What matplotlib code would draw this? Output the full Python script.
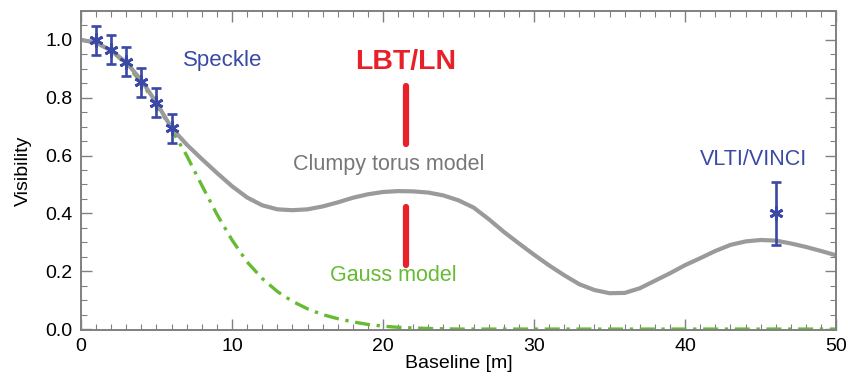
import matplotlib
matplotlib.use("Agg")
import matplotlib.pyplot as plt
from matplotlib.ticker import MultipleLocator

plt.rcParams["font.family"] = ["Liberation Sans", "DejaVu Sans"]

# Clumpy torus model, read at 1 m steps
baseline = list(range(0, 51))
torus_vis = [1.000, 0.990, 0.963, 0.922, 0.860, 0.782, 0.695, 0.638, 0.588, 0.540,
             0.494, 0.455, 0.428, 0.414, 0.411, 0.414, 0.424, 0.438, 0.454, 0.466,
             0.474, 0.477, 0.476, 0.472, 0.462, 0.445, 0.420, 0.380, 0.336, 0.296,
             0.257, 0.220, 0.186, 0.155, 0.135, 0.124, 0.125, 0.141, 0.167, 0.193,
             0.221, 0.245, 0.270, 0.291, 0.303, 0.308, 0.306, 0.296, 0.284, 0.270,
             0.255]
# Gauss model
gauss_vis = [1.000, 0.990, 0.962, 0.915, 0.852, 0.776, 0.690, 0.600, 0.497, 0.397,
             0.308, 0.232, 0.175, 0.130, 0.096, 0.070, 0.050, 0.036, 0.025, 0.016,
             0.010, 0.006, 0.004, 0.002, 0.001] + [0.0] * 26

# Speckle points
speckle_x = [1, 2, 3, 4, 5, 6]
speckle_y = [0.998, 0.966, 0.925, 0.854, 0.782, 0.695]
speckle_err = [0.05, 0.05, 0.05, 0.05, 0.05, 0.05]

# VLTI/VINCI point
vinci_x = [46.0]
vinci_y = [0.40]
vinci_err = [0.11]

# LBT/LN marker bars
lbt_x = 21.5
lbt_upper = (0.640, 0.842)
lbt_lower = (0.221, 0.422)

BLUE = "#3a48a6"
GRAY = "#9a9a9a"
GREEN = "#66bb33"
RED = "#e8202a"
AXIS = "#808080"

fig = plt.figure(figsize=(8.48, 3.9), dpi=100)
ax = fig.add_axes([0.0955, 0.154, 0.8905, 0.818])

ax.plot(baseline, gauss_vis, color=GREEN, lw=2.4, linestyle=(0, (4.5, 2, 1, 2)))
ax.plot(baseline, torus_vis, color=GRAY, lw=3.0, solid_capstyle="round",
        solid_joinstyle="round")

ax.errorbar(speckle_x, speckle_y, yerr=speckle_err, fmt="none", ecolor=BLUE,
            elinewidth=1.9, capsize=3.5, capthick=1.9, zorder=4)
ax.plot(speckle_x, speckle_y, linestyle="none", marker=(6, 2, 0), ms=10, mew=2.0,
        color=BLUE, zorder=5)
ax.errorbar(vinci_x, vinci_y, yerr=vinci_err, fmt="none", ecolor=BLUE,
            elinewidth=1.9, capsize=3.5, capthick=1.9, zorder=4)
ax.plot(vinci_x, vinci_y, linestyle="none", marker=(6, 2, 0), ms=10, mew=2.0,
        color=BLUE, zorder=5)

ax.plot([lbt_x, lbt_x], lbt_upper, color=RED, lw=4.5, solid_capstyle="round")
ax.plot([lbt_x, lbt_x], lbt_lower, color=RED, lw=4.5, solid_capstyle="round")

ax.text(9.36, 0.928, "Speckle", color=BLUE, fontsize=16, ha="center", va="center")
ax.text(21.5, 0.924, "LBT/LN", color=RED, fontsize=20.5, fontweight="bold",
        ha="center", va="center")
ax.text(20.4, 0.569, "Clumpy torus model", color="#777777", fontsize=15.5,
        ha="center", va="center")
ax.text(20.7, 0.185, "Gauss model", color=GREEN, fontsize=15.5, ha="center", va="center")
ax.text(44.5, 0.586, "VLTI/VINCI", color=BLUE, fontsize=15.5, ha="center", va="center")

ax.set_xlim(0, 50)
ax.set_ylim(-0.003, 1.1)
ax.xaxis.set_major_locator(MultipleLocator(10))
ax.xaxis.set_minor_locator(MultipleLocator(1))
ax.yaxis.set_major_locator(MultipleLocator(0.2))
ax.yaxis.set_minor_locator(MultipleLocator(0.05))
ax.set_yticks([0, 0.2, 0.4, 0.6, 0.8, 1.0])
ax.set_yticklabels(["0.0", "0.2", "0.4", "0.6", "0.8", "1.0"])

ax.tick_params(which="both", direction="in", top=True, right=True, color=AXIS,
               labelsize=14, pad=6)
ax.tick_params(which="major", length=8, width=1.0)
ax.tick_params(which="minor", length=4, width=0.8)
for s in ax.spines.values():
    s.set_color(AXIS)
    s.set_linewidth(1.4)

ax.set_xlabel("Baseline [m]", fontsize=14, labelpad=0)
ax.set_ylabel("Visibility", fontsize=14, labelpad=10)

fig.savefig("out.png", dpi=100)
